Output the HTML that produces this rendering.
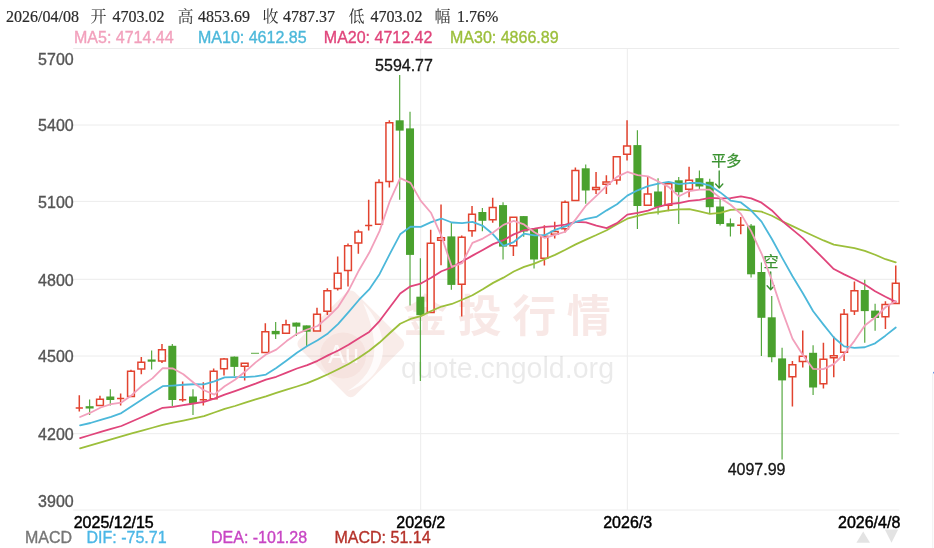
<!DOCTYPE html>
<html lang="zh-CN"><head><meta charset="utf-8"><title>K线图</title><style>
html,body{margin:0;padding:0;background:#fff}
body{width:934px;height:548px;position:relative;overflow:hidden}
.s{position:absolute;white-space:pre;line-height:1;-webkit-text-stroke:0.35px currentColor}
.t{font-family:"Liberation Serif","Noto Serif CJK SC",serif;font-size:16px;color:#2b2b2b;top:9px}
.t{-webkit-text-stroke-width:0.2px}
.k{-webkit-text-stroke-width:0;color:#333}
.m{font-family:"Liberation Sans","Noto Sans CJK SC",sans-serif;font-size:16px;top:30.3px}
.y{font-family:"Liberation Sans","Noto Sans CJK SC",sans-serif;font-size:16px;color:#555;width:73.7px;left:0;text-align:right}
.x{font-family:"Liberation Sans","Noto Sans CJK SC",sans-serif;font-size:16px;color:#000;top:514.5px;-webkit-text-stroke-width:0.45px}
.b{font-family:"Liberation Sans","Noto Sans CJK SC",sans-serif;font-size:16px;top:529.6px}
</style></head><body>
<svg width="934" height="548" viewBox="0 0 934 548" style="position:absolute;left:0;top:0">
<g stroke="#ececec" stroke-width="1" fill="none">
<line x1="73.2" y1="48.5" x2="899.3" y2="48.5"/>
<line x1="73.2" y1="125.0" x2="899.3" y2="125.0"/>
<line x1="73.2" y1="201.4" x2="899.3" y2="201.4"/>
<line x1="73.2" y1="279.3" x2="899.3" y2="279.3"/>
<line x1="73.2" y1="356.0" x2="899.3" y2="356.0"/>
<line x1="73.2" y1="433.7" x2="899.3" y2="433.7"/>
<line x1="73.2" y1="510.0" x2="899.3" y2="510.0"/>
<line x1="420.66" y1="48.5" x2="420.66" y2="510"/>
<line x1="627.35" y1="48.5" x2="627.35" y2="510"/>
</g>
<g id="wm">
<rect x="-39.5" y="-39.5" width="79" height="79" rx="6" transform="translate(350.8 343.8) rotate(45)" fill="#c8402c" opacity="0.10"/>
<circle cx="343" cy="355.5" r="23" fill="#c8402c" opacity="0.05"/>
<path d="M363 303C374.5 314 383.5 332 383 350C382.5 369 368 385 347.5 391C364 381 374 367 374.3 350C374.6 334 369.5 318 363 303Z" fill="#fff" opacity="0.8"/>
<text x="343.5" y="363.2" text-anchor="middle" fill="#fff" opacity="0.85" style="font-family:'Liberation Sans','Noto Sans CJK SC',sans-serif;font-size:25px">Au</text>
<text x="403.2" y="331.5" fill="#c8402c" opacity="0.115" style="font-family:'Liberation Sans','Noto Sans CJK SC',sans-serif;font-weight:700;font-size:44px;letter-spacing:10.5px">金投行情</text>
<text x="401" y="377.5" fill="#000" opacity="0.08" style="font-family:'Liberation Sans','Noto Sans CJK SC',sans-serif;font-size:28.6px">quote.cngold.org</text>
</g>
<g stroke-width="1.5">
<path d="M79.3 395.2V411.5M75.7 408H82.9" stroke="#e2432f" fill="none"/>
<path d="M89.63 399.5V414.9" stroke="#4fa538" stroke-width="1.15" fill="none"/>
<rect x="85.63" y="406.2" width="8.0" height="2.3" fill="#4aa12e" stroke="none"/>
<path d="M99.97 395.7V398.6M96.57 399.35H103.37V405.55H96.57Z" stroke="#e2432f" fill="#fff"/>
<path d="M110.31 389.2V405.5" stroke="#4fa538" stroke-width="1.15" fill="none"/>
<rect x="106.31" y="396.5" width="8.0" height="3.5" fill="#4aa12e" stroke="none"/>
<path d="M120.64 393.5V405.5M117.04 398.6H124.24" stroke="#e2432f" fill="none"/>
<path d="M130.97 369.8V370.6M127.57 371.35H134.38V396.45H127.57Z" stroke="#e2432f" fill="#fff"/>
<path d="M141.31 357.1V361.4M141.31 369.8V374.2M137.91 362.15H144.71V369.05H137.91Z" stroke="#e2432f" fill="#fff"/>
<path d="M151.64 350.6V369.4" stroke="#4fa538" stroke-width="1.15" fill="none"/>
<rect x="147.64" y="359.5" width="8.0" height="2.2" fill="#4aa12e" stroke="none"/>
<path d="M161.98 344V348.9M161.98 361.7V363M158.58 349.65H165.38V360.95H158.58Z" stroke="#e2432f" fill="#fff"/>
<path d="M172.31 344V406.3" stroke="#4fa538" stroke-width="1.15" fill="none"/>
<rect x="168.31" y="345.8" width="8.0" height="54.2" fill="#4aa12e" stroke="none"/>
<path d="M182.65 381.5V401.7M179.05 399.8H186.25" stroke="#e2432f" fill="none"/>
<path d="M192.99 389.2V414.9" stroke="#4fa538" stroke-width="1.15" fill="none"/>
<rect x="188.99" y="396.5" width="8.0" height="7.2" fill="#4aa12e" stroke="none"/>
<path d="M203.32 382.3V405.5M199.72 399.8H206.92" stroke="#e2432f" fill="none"/>
<path d="M213.66 368.6V370.6M210.26 371.35H217.06V398.75H210.26Z" stroke="#e2432f" fill="#fff"/>
<path d="M223.99 358V358.3M223.99 369.6V375.5M220.59 359.05H227.39V368.85H220.59Z" stroke="#e2432f" fill="#fff"/>
<path d="M234.32 356.6V376.3" stroke="#4fa538" stroke-width="1.15" fill="none"/>
<rect x="230.32" y="356.6" width="8.0" height="10.3" fill="#4aa12e" stroke="none"/>
<path d="M244.66 366.9V380.6M241.26 363.35H248.06V366.15H241.26Z" stroke="#e2432f" fill="#fff"/>
<path d="M255 353.2V353.2" stroke="#4fa538" stroke-width="1.15" fill="none"/>
<rect x="251" y="352.8" width="8.0" height="0.9" fill="#4aa12e" stroke="none"/>
<path d="M265.33 323.2V330.9M261.93 331.65H268.73V352.45H261.93Z" stroke="#e2432f" fill="#fff"/>
<path d="M275.67 322V339.1" stroke="#4fa538" stroke-width="1.15" fill="none"/>
<rect x="271.67" y="330.9" width="8.0" height="3.4" fill="#4aa12e" stroke="none"/>
<path d="M286 319.7V324M282.6 324.75H289.4V333.25H282.6Z" stroke="#e2432f" fill="#fff"/>
<path d="M296.34 322.6V336" stroke="#4fa538" stroke-width="1.15" fill="none"/>
<rect x="292.34" y="322.6" width="8.0" height="4" fill="#4aa12e" stroke="none"/>
<path d="M306.67 325.4V346.3" stroke="#4fa538" stroke-width="1.15" fill="none"/>
<rect x="302.67" y="325.4" width="8.0" height="6.3" fill="#4aa12e" stroke="none"/>
<path d="M317 307.8V313.4M313.61 314.15H320.4V330.95H313.61Z" stroke="#e2432f" fill="#fff"/>
<path d="M327.34 288.3V290M327.34 312V315M323.94 290.75H330.74V311.25H323.94Z" stroke="#e2432f" fill="#fff"/>
<path d="M337.68 256.6V272.5M337.68 289.2V290.4M334.28 273.25H341.07V288.45H334.28Z" stroke="#e2432f" fill="#fff"/>
<path d="M348.01 243.4V245.1M348.01 271.2V286.6M344.61 245.85H351.41V270.45H344.61Z" stroke="#e2432f" fill="#fff"/>
<path d="M358.35 229.8V231.3M358.35 243.7V253.7M354.95 232.05H361.75V242.95H354.95Z" stroke="#e2432f" fill="#fff"/>
<path d="M368.68 199.7V230.6M365.08 225.5H372.28" stroke="#e2432f" fill="none"/>
<path d="M379.02 179.2V181.7M375.62 182.45H382.42V224.25H375.62Z" stroke="#e2432f" fill="#fff"/>
<path d="M389.35 120.3V122M389.35 182.2V187.4M385.95 122.75H392.75V181.45H385.95Z" stroke="#e2432f" fill="#fff"/>
<path d="M399.69 74.9V199.7" stroke="#4fa538" stroke-width="1.15" fill="none"/>
<rect x="395.69" y="120.3" width="8.0" height="10.3" fill="#4aa12e" stroke="none"/>
<path d="M410.02 111.7V305.5" stroke="#4fa538" stroke-width="1.15" fill="none"/>
<rect x="406.02" y="128.4" width="8.0" height="126.5" fill="#4aa12e" stroke="none"/>
<path d="M420.36 258.3V380.9" stroke="#4fa538" stroke-width="1.15" fill="none"/>
<rect x="416.36" y="296.7" width="8.0" height="18.5" fill="#4aa12e" stroke="none"/>
<path d="M430.69 229.8V242.4M427.29 243.15H434.09V312.45H427.29Z" stroke="#e2432f" fill="#fff"/>
<path d="M441.03 204.5V237M441.03 241.1V265.2M437.63 237.75H444.43V240.35H437.63Z" stroke="#e2432f" fill="#fff"/>
<path d="M451.36 222.7V289.7" stroke="#4fa538" stroke-width="1.15" fill="none"/>
<rect x="447.36" y="236.4" width="8.0" height="48.5" fill="#4aa12e" stroke="none"/>
<path d="M461.7 235.4V236.6M461.7 284.9V316.6M458.3 237.35H465.1V284.15H458.3Z" stroke="#e2432f" fill="#fff"/>
<path d="M472.03 206V213.6M472.03 231.5V236.7M468.63 214.35H475.43V230.75H468.63Z" stroke="#e2432f" fill="#fff"/>
<path d="M482.37 208V231.3" stroke="#4fa538" stroke-width="1.15" fill="none"/>
<rect x="478.37" y="212" width="8.0" height="8.8" fill="#4aa12e" stroke="none"/>
<path d="M492.7 197.7V206.8M492.7 220.6V222.7M489.3 207.55H496.1V219.85H489.3Z" stroke="#e2432f" fill="#fff"/>
<path d="M503.04 202.3V259.5" stroke="#4fa538" stroke-width="1.15" fill="none"/>
<rect x="499.04" y="205.1" width="8.0" height="41.5" fill="#4aa12e" stroke="none"/>
<path d="M513.37 246.6V256M509.97 217.35H516.77V245.85H509.97Z" stroke="#e2432f" fill="#fff"/>
<path d="M523.71 216.1V236.7" stroke="#4fa538" stroke-width="1.15" fill="none"/>
<rect x="519.71" y="216.1" width="8.0" height="15.4" fill="#4aa12e" stroke="none"/>
<path d="M534.04 229.1V268.6" stroke="#4fa538" stroke-width="1.15" fill="none"/>
<rect x="530.04" y="229.1" width="8.0" height="30.4" fill="#4aa12e" stroke="none"/>
<path d="M544.38 225.2V235.5M544.38 259V265.5M540.98 236.25H547.77V258.25H540.98Z" stroke="#e2432f" fill="#fff"/>
<path d="M554.71 221.7V230.8M554.71 234.9V238.4M551.31 231.55H558.11V234.15H551.31Z" stroke="#e2432f" fill="#fff"/>
<path d="M565.05 200.5V201.4M565.05 229.5V232.5M561.65 202.15H568.45V228.75H561.65Z" stroke="#e2432f" fill="#fff"/>
<path d="M575.38 167.5V169.7M571.98 170.45H578.78V200.55H571.98Z" stroke="#e2432f" fill="#fff"/>
<path d="M585.72 164.5V203.7" stroke="#4fa538" stroke-width="1.15" fill="none"/>
<rect x="581.72" y="168.3" width="8.0" height="22.2" fill="#4aa12e" stroke="none"/>
<path d="M596.05 172.1V186.8M596.05 190.3V194.1M592.65 187.55H599.45V189.55H592.65Z" stroke="#e2432f" fill="#fff"/>
<path d="M606.38 175.2V181.2M606.38 185.1V194M602.99 181.95H609.78V184.35H602.99Z" stroke="#e2432f" fill="#fff"/>
<path d="M616.72 180.7V184.6M613.32 156.75H620.12V179.95H613.32Z" stroke="#e2432f" fill="#fff"/>
<path d="M627.05 120.3V145.2M627.05 155V160.6M623.65 145.95H630.45V154.25H623.65Z" stroke="#e2432f" fill="#fff"/>
<path d="M637.39 130.2V228.9" stroke="#4fa538" stroke-width="1.15" fill="none"/>
<rect x="633.39" y="145.1" width="8.0" height="60.9" fill="#4aa12e" stroke="none"/>
<path d="M647.73 176.4V193.3M644.33 194.05H651.12V205.25H644.33Z" stroke="#e2432f" fill="#fff"/>
<path d="M658.06 178.2V214.6" stroke="#4fa538" stroke-width="1.15" fill="none"/>
<rect x="654.06" y="191.5" width="8.0" height="15.4" fill="#4aa12e" stroke="none"/>
<path d="M668.39 206V211.2M665 183.85H671.79V205.25H665Z" stroke="#e2432f" fill="#fff"/>
<path d="M678.73 177V224" stroke="#4fa538" stroke-width="1.15" fill="none"/>
<rect x="674.73" y="180.3" width="8.0" height="11.9" fill="#4aa12e" stroke="none"/>
<path d="M689.07 166.8V179.5M689.07 190V197.3M685.67 180.25H692.47V189.25H685.67Z" stroke="#e2432f" fill="#fff"/>
<path d="M699.4 170.6V188.9" stroke="#4fa538" stroke-width="1.15" fill="none"/>
<rect x="695.4" y="178.2" width="8.0" height="8.3" fill="#4aa12e" stroke="none"/>
<path d="M709.74 178.8V212.9" stroke="#4fa538" stroke-width="1.15" fill="none"/>
<rect x="705.74" y="181.8" width="8.0" height="25.4" fill="#4aa12e" stroke="none"/>
<path d="M720.07 198.3V225.6" stroke="#4fa538" stroke-width="1.15" fill="none"/>
<rect x="716.07" y="206.5" width="8.0" height="17.5" fill="#4aa12e" stroke="none"/>
<path d="M730.4 218.5V236.4" stroke="#4fa538" stroke-width="1.15" fill="none"/>
<rect x="726.4" y="223.2" width="8.0" height="3.4" fill="#4aa12e" stroke="none"/>
<path d="M740.74 217V234.3M737.14 225.3H744.34" stroke="#e2432f" fill="none"/>
<path d="M751.08 224V277.5" stroke="#4fa538" stroke-width="1.15" fill="none"/>
<rect x="747.08" y="225.6" width="8.0" height="48.7" fill="#4aa12e" stroke="none"/>
<path d="M761.41 262.6V356" stroke="#4fa538" stroke-width="1.15" fill="none"/>
<rect x="757.41" y="272" width="8.0" height="45.8" fill="#4aa12e" stroke="none"/>
<path d="M771.75 296V362.3" stroke="#4fa538" stroke-width="1.15" fill="none"/>
<rect x="767.75" y="317.3" width="8.0" height="39.9" fill="#4aa12e" stroke="none"/>
<path d="M782.08 347.8V459.5" stroke="#4fa538" stroke-width="1.15" fill="none"/>
<rect x="778.08" y="358.4" width="8.0" height="22" fill="#4aa12e" stroke="none"/>
<path d="M792.41 361.1V364M792.41 377.4V406.4M789.01 364.75H795.81V376.65H789.01Z" stroke="#e2432f" fill="#fff"/>
<path d="M802.75 330.4V355.5M802.75 362.3V367.5M799.35 356.25H806.15V361.55H799.35Z" stroke="#e2432f" fill="#fff"/>
<path d="M813.09 345.3V394.9" stroke="#4fa538" stroke-width="1.15" fill="none"/>
<rect x="809.09" y="352.8" width="8.0" height="34.7" fill="#4aa12e" stroke="none"/>
<path d="M823.42 342.8V358.4M823.42 384.6V388.5M820.02 359.15H826.82V383.85H820.02Z" stroke="#e2432f" fill="#fff"/>
<path d="M833.75 336.4V355M833.75 358.6V377.2M830.36 355.75H837.15V357.85H830.36Z" stroke="#e2432f" fill="#fff"/>
<path d="M844.09 308.9V313.4M844.09 352.9V361.1M840.69 314.15H847.49V352.15H840.69Z" stroke="#e2432f" fill="#fff"/>
<path d="M854.43 281.4V290M854.43 311.8V314.9M851.03 290.75H857.83V311.05H851.03Z" stroke="#e2432f" fill="#fff"/>
<path d="M864.76 279.7V342.7" stroke="#4fa538" stroke-width="1.15" fill="none"/>
<rect x="860.76" y="290" width="8.0" height="21.1" fill="#4aa12e" stroke="none"/>
<path d="M875.1 303.7V330.7" stroke="#4fa538" stroke-width="1.15" fill="none"/>
<rect x="871.1" y="310.6" width="8.0" height="7.4" fill="#4aa12e" stroke="none"/>
<path d="M885.43 301.2V303.7M885.43 317.5V329M882.03 304.45H888.83V316.75H882.03Z" stroke="#e2432f" fill="#fff"/>
<path d="M895.76 265.4V282.5M892.37 283.25H899.16V303.45H892.37Z" stroke="#e2432f" fill="#fff"/>
</g>
<g fill="#151515" stroke="#151515" stroke-width="0.3" style="font-family:'Liberation Sans','Noto Sans CJK SC',sans-serif;font-size:16px">
<text x="404" y="71.4" text-anchor="middle">5594.77</text>
<text x="756.6" y="474.9" text-anchor="middle">4097.99</text>
</g>
<g fill="#3b9231" stroke="#3b9231" stroke-width="0.25" style="font-family:'Liberation Sans','Noto Sans CJK SC',sans-serif;font-size:15px">
<text x="711.2" y="165.7">平多</text>
<text x="763.5" y="266.6">空</text>
</g>
<g stroke="#3b9231" stroke-width="1.35" fill="none" stroke-linecap="round" stroke-linejoin="round">
<path d="M719.2 171V187.8M715.6 184L719.2 188L722.8 184"/>
<path d="M770.7 272V289.6M767.1 285.8L770.7 289.8L774.3 285.8"/>
</g>
<polyline points="80.1,448.3 90.42,445.3 100.75,442.3 111.07,439.3 121.4,436.3 131.72,433.45 142.05,430.6 152.38,427.75 162.7,424.9 173.02,422.72 183.35,420.55 193.67,418.38 204,416.2 214.32,412.5 224.65,408.8 234.97,406 245.3,402.7 255.62,399.4 265.95,396.4 276.27,392.9 286.6,389.6 296.92,386.5 307.25,383.2 317.57,378.9 327.9,374.3 338.23,369.2 348.55,364 358.88,357.8 369.2,350.8 379.52,342.55 389.85,333.03 400.17,323.77 410.5,318.98 420.82,316.15 431.15,310.96 441.48,306.51 451.8,303.96 462.12,299.79 472.45,295.28 482.77,289.3 493.1,282.88 503.42,277.65 513.75,271.55 524.07,266.92 534.4,263.62 544.72,259.24 555.05,254.85 565.38,249.78 575.7,244.4 586.02,239.61 596.35,235.04 606.67,230.19 617,224.33 627.32,218.73 637.65,215.93 647.98,213.29 658.3,212.01 668.62,210.41 678.95,209.31 689.27,209.24 699.6,211.39 709.92,213.94 720.25,212.91 730.57,209.96 740.9,209.37 751.23,210.62 761.55,211.71 771.88,215.73 782.2,221.29 792.52,226.07 802.85,231.02 813.17,235.72 823.5,240.45 833.82,244.56 844.15,246.36 854.48,248.18 864.8,250.85 875.12,254.74 885.45,259.21 895.77,262.27" fill="none" stroke="#9cbf3b" stroke-width="1.8" stroke-linejoin="round" stroke-linecap="round"/>
<polyline points="80.1,438.1 90.42,435 100.75,431.9 111.07,428.95 121.4,426 131.72,421.5 142.05,417 152.38,412.4 162.7,407.8 173.02,406.8 183.35,405.2 193.67,403.5 204,401.9 214.32,398.7 224.65,394.6 234.97,391.1 245.3,387.4 255.62,383.7 265.95,379.7 276.27,376.76 286.6,372.58 296.92,368.49 307.25,365.14 317.57,360.81 327.9,355.4 338.23,350.5 348.55,344.68 358.88,338.16 369.2,331.97 379.52,321.06 389.85,307.19 400.17,293.53 410.5,286.31 420.82,283.53 431.15,277.74 441.48,271.25 451.8,267.36 462.12,261.51 472.45,255.64 482.77,249.97 493.1,244.11 503.42,240.11 513.75,234.36 524.07,230.26 534.4,228.73 544.72,226.88 555.05,226.17 565.38,224.68 575.7,221.91 586.02,222.34 596.35,225.58 606.67,228.12 617,223.17 627.32,214.67 637.65,212.85 647.98,210.67 658.3,206.77 668.62,204.09 678.95,203.02 689.27,200.95 699.6,199.94 709.92,197.97 720.25,198.34 730.57,198.09 740.9,196.37 751.23,198.31 761.55,202.66 771.88,210.44 782.2,220.98 792.52,229.66 802.85,238.09 813.17,248.41 823.5,258.52 833.82,269.01 844.15,274.38 854.48,279.22 864.8,284.43 875.12,291.18 885.45,296.75 895.77,301.9" fill="none" stroke="#e0457b" stroke-width="1.8" stroke-linejoin="round" stroke-linecap="round"/>
<polyline points="80.1,425.4 90.42,423 100.75,419.8 111.07,416.8 121.4,413.1 131.72,406.3 142.05,399.5 152.38,392.7 162.7,386.2 173.02,385.55 183.35,384.73 193.67,384.25 204,384.33 214.32,381.39 224.65,377.4 234.97,377.03 245.3,377.15 255.62,376.34 265.95,374.54 276.27,367.97 286.6,360.43 296.92,352.72 307.25,345.95 317.57,340.23 327.9,333.4 338.23,323.96 348.55,312.21 358.88,299.98 369.2,289.4 379.52,274.14 389.85,253.94 400.17,234.34 410.5,226.66 420.82,226.84 431.15,222.08 441.48,218.53 451.8,222.51 462.12,223.04 472.45,221.89 482.77,225.8 493.1,234.28 503.42,245.88 513.75,242.05 524.07,233.68 534.4,235.39 544.72,235.24 555.05,229.83 565.38,226.31 575.7,221.92 586.02,218.89 596.35,216.89 606.67,210.35 617,204.29 627.32,195.66 637.65,190.31 647.98,186.09 658.3,183.7 668.62,181.87 678.95,184.12 689.27,183.02 699.6,182.99 709.92,185.59 720.25,192.39 730.57,200.53 740.9,202.42 751.23,210.52 761.55,221.61 771.88,239.02 782.2,257.84 792.52,276.29 802.85,293.19 813.17,311.22 823.5,324.66 833.82,337.5 844.15,346.35 854.48,347.92 864.8,347.25 875.12,343.33 885.45,335.66 895.77,327.51" fill="none" stroke="#4cb8da" stroke-width="1.8" stroke-linejoin="round" stroke-linecap="round"/>
<polyline points="80.1,417 90.42,412.7 100.75,407.5 111.07,404.2 121.4,402.58 131.72,395.18 142.05,385.76 152.38,378.38 162.7,368.16 173.02,368.52 183.35,374.28 193.67,382.74 204,390.28 214.32,394.62 224.65,386.28 234.97,379.78 245.3,371.56 255.62,362.4 265.95,354.46 276.27,349.66 286.6,341.08 296.92,333.88 307.25,329.5 317.57,326 327.9,317.14 338.23,306.84 348.55,290.54 358.88,270.46 369.2,252.8 379.52,231.14 389.85,201.04 400.17,178.14 410.5,182.86 420.82,200.88 431.15,213.02 441.48,236.02 451.8,266.88 462.12,263.22 472.45,242.9 482.77,238.58 493.1,232.54 503.42,224.88 513.75,220.88 524.07,224.46 534.4,232.2 544.72,237.94 555.05,234.78 565.38,231.74 575.7,219.38 586.02,205.58 596.35,195.84 606.67,185.92 617,176.84 627.32,171.94 637.65,175.04 647.98,176.34 658.3,181.48 668.62,186.9 678.95,196.3 689.27,191 699.6,189.64 709.92,189.7 720.25,197.88 730.57,204.76 740.9,213.84 751.23,231.4 761.55,253.52 771.88,280.16 782.2,310.92 792.52,338.74 802.85,354.98 813.17,368.92 823.5,369.16 833.82,364.08 844.15,353.96 854.48,340.86 864.8,325.58 875.12,317.5 885.45,307.24 895.77,301.06" fill="none" stroke="#f2a0bc" stroke-width="1.8" stroke-linejoin="round" stroke-linecap="round"/>
<path d="M863.2 531.6L870 542.8H856.4Z M884.8 529.4H898.2L891.5 542.8Z" fill="#e3e3e3"/>
<rect x="932.2" y="373.5" width="1" height="175" fill="#f1f1f1"/><circle cx="933.9" cy="372.7" r="0.9" fill="#5b8ee6"/>
</svg>
<span class="s t" style="left:6px">2026/04/08</span>
<span class="s t k" style="left:90.5px">开</span><span class="s t" style="left:112.6px">4703.02</span>
<span class="s t k" style="left:177.4px">高</span><span class="s t" style="left:198px">4853.69</span>
<span class="s t k" style="left:262.6px">收</span><span class="s t" style="left:283px">4787.37</span>
<span class="s t k" style="left:348.4px">低</span><span class="s t" style="left:370.6px">4703.02</span>
<span class="s t k" style="left:434.4px">幅</span><span class="s t" style="left:457px">1.76%</span>
<span class="s m" style="left:74px;color:#f2a0bc">MA5: 4714.44</span>
<span class="s m" style="left:198px;color:#4cb8da">MA10: 4612.85</span>
<span class="s m" style="left:323.8px;color:#e0457b">MA20: 4712.42</span>
<span class="s m" style="left:450px;color:#9cbf3b">MA30: 4866.89</span>
<span class="s y" style="top:51.9px">5700</span>
<span class="s y" style="top:118.3px">5400</span>
<span class="s y" style="top:195.1px">5100</span>
<span class="s y" style="top:272.6px">4800</span>
<span class="s y" style="top:349.2px">4500</span>
<span class="s y" style="top:427.0px">4200</span>
<span class="s y" style="top:494.2px">3900</span>
<span class="s x" style="left:73.7px">2025/12/15</span>
<span class="s x" style="left:396.3px">2026/2</span>
<span class="s x" style="left:603.2px">2026/3</span>
<span class="s x" style="left:838px">2026/4/8</span>
<span class="s b" style="left:25px;color:#767676">MACD</span>
<span class="s b" style="left:86.5px;color:#4cb7e6">DIF: -75.71</span>
<span class="s b" style="left:211px;color:#c846c4">DEA: -101.28</span>
<span class="s b" style="left:334.5px;color:#b5322a">MACD: 51.14</span>
</body></html>
